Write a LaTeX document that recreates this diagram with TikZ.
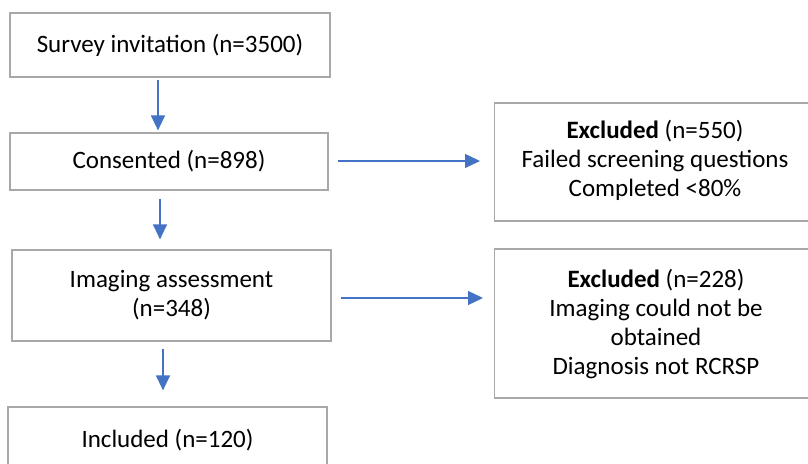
\documentclass[tikz,border=0pt]{standalone}
\usepackage{fontspec}
\setmainfont{Carlito}
\usetikzlibrary{arrows.meta}
\definecolor{arrblue}{HTML}{4472C4}
\definecolor{boxgray}{HTML}{A8A8A8}
\tikzset{
  box/.style={draw=boxgray, line width=1.2pt, rectangle, inner sep=0pt, align=center,
    font=\fontsize{25}{29}\selectfont},
  txt/.style={inner sep=0pt, align=center, font=\fontsize{25}{29}\selectfont},
  arr/.style={draw=arrblue, line width=1.3pt, -{Triangle[length=15pt,width=14pt]}}
}
\begin{document}
\begin{tikzpicture}[x=1pt,y=1pt]
\useasboundingbox (0,0) rectangle (808,463);
\begin{scope}
\clip (0,0) rectangle (808,463);
\node[box, minimum width=320pt, minimum height=64pt] (b1) at (170,418) {Survey invitation (n=3500)};
\node[box, minimum width=318pt, minimum height=57pt] (b2) at (169,301.5) {Consented (n=898)};
\node[box, minimum width=319pt, minimum height=91pt] (b3) at (171.5,167.5) {Imaging assessment\\(n=348)};
\node[box, minimum width=319pt, minimum height=66pt] (b4) at (167.5,23) {Included (n=120)};
\node[box, minimum width=340pt, minimum height=118pt, anchor=west] (r1) at (494,301) {};
\node[txt] (r1t) at (655,302.5) {\textbf{Excluded} (n=550)\\Failed screening questions\\Completed <80\%};
\node[box, minimum width=340pt, minimum height=149pt, anchor=west] (r2) at (494,139.5) {};
\node[txt] (r2t) at (656,138.5) {\textbf{Excluded} (n=228)\\Imaging could not be\\obtained\\Diagnosis not RCRSP};
\draw[arr] ([xshift=-12pt,yshift=-2pt]b1.south) -- ([xshift=-11pt,yshift=2pt]b2.north);
\draw[arr] ([xshift=-9pt,yshift=-8pt]b2.south) -- ([xshift=-9pt,yshift=10pt]b3.north -| b2.south);
\draw[arr] ([xshift=-8.5pt,yshift=-7pt]b3.south) -- ([xshift=-8.5pt,yshift=16pt]b4.north -| b3.south);
\draw[arr] ([xshift=9pt,yshift=0.5pt]b2.east) -- ([xshift=-14pt,yshift=1pt]r1.west);
\draw[arr] ([xshift=9pt,yshift=-2.5pt]b3.east) -- ([xshift=-11pt,yshift=25.5pt]r2.west);
\end{scope}
\end{tikzpicture}
\end{document}
